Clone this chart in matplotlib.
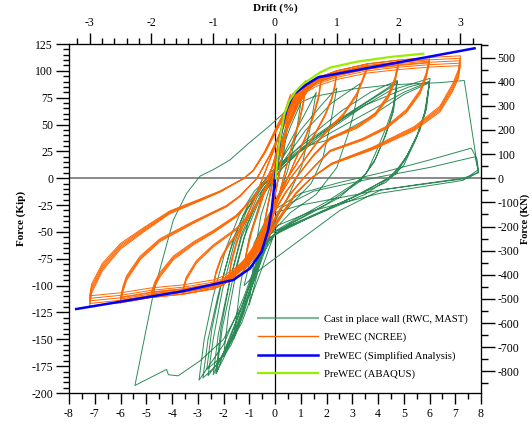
import numpy as np
import matplotlib.pyplot as plt
from matplotlib.ticker import MultipleLocator

plt.rcParams['font.family'] = ['Liberation Serif', 'DejaVu Serif']
plt.rcParams['axes.unicode_minus'] = False

KIP_TO_KN = 4.448
IN_PER_PCT = 2.4   # 1 % drift = 2.4 in

# ---- Cast in place wall (RWC, MAST): whole test record as (disp in, force kip)
cast_path = [
    (0, 0), (0.2, 30), (0.5, 55),
    (0.35, 25), (0.1, -5), (-0.2, -35), (-0.5, -70),
    (-0.35, -35), (-0.1, -5), (0.25, 25), (0.6, 48), (1.0, 70),
    (0.8, 38), (0.5, 8), (0.1, -20), (-0.4, -60), (-0.75, -95), (-1.0, -118),
    (-0.8, -72), (-0.55, -35), (-0.15, -5), (0.45, 28), (1.05, 55), (1.6, 80),
    (1.35, 45), (1.05, 12), (0.55, -15), (-0.1, -45), (-0.7, -85), (-1.2, -125), (-1.6, -150),
    (-1.35, -100), (-1.0, -55), (-0.55, -20), (0.1, 12), (1.0, 45), (1.8, 68), (2.4, 84),
    (2.15, 50), (1.85, 18), (1.4, -5), (0.6, -25), (-0.2, -48), (-0.8, -90), (-1.3, -130),
    (-1.7, -155), (-2.0, -166),
    (-1.8, -125), (-1.45, -80), (-1.05, -42), (-0.5, -12), (0.3, 15), (1.2, 45), (2.2, 70), (3.3, 88),
    (3.05, 60), (2.85, 42), (2.4, 10), (1.6, -15), (0.6, -32), (-0.3, -55), (-0.9, -100),
    (-1.5, -140), (-2.0, -168), (-2.3, -182),
    (-2.1, -140), (-1.75, -95), (-1.3, -52), (-0.7, -18), (0.2, 12), (1.4, 40), (2.6, 63),
    (3.7, 80), (4.75, 91),
    (4.6, 67), (4.33, 48), (3.95, 26), (3.56, 5), (2.5, -18), (1.2, -35), (0.0, -50),
    (-0.6, -90), (-1.3, -135), (-2.0, -165), (-2.65, -178),
    (-2.45, -140), (-2.05, -95), (-1.6, -55), (-1.0, -22), (-0.2, 5), (1.0, 30), (2.5, 55),
    (3.8, 75), (4.75, 90),
    (4.6, 62), (4.3, 40), (3.9, 18), (3.4, 0), (2.0, -22), (0.8, -38), (-0.4, -55),
    (-1.0, -100), (-1.75, -150), (-2.4, -183),
    (-2.2, -145), (-1.8, -100), (-1.3, -55), (-0.7, -22), (0.2, 8), (1.4, 35), (2.8, 58),
    (4.5, 82), (6.02, 93),
    (5.89, 66), (5.63, 45), (5.24, 26), (4.72, 4.5), (3.5, -15), (2.0, -30), (0.5, -45),
    (-0.45, -60), (-1.2, -110), (-2.0, -155), (-2.95, -188),
    (-2.75, -150), (-2.4, -110), (-1.9, -65), (-1.4, -35), (-0.8, -12), (0.2, 12), (1.5, 33),
    (2.14, 42), (3.95, 66), (5.0, 80), (6.0, 90),
    (5.85, 64), (5.55, 42), (5.15, 22), (4.6, 3), (3.2, -16), (1.6, -33), (0.2, -48),
    (-0.5, -65), (-1.2, -115), (-1.8, -150), (-2.27, -181.6),
    (-2.05, -140), (-1.65, -95), (-1.2, -55), (-0.6, -20), (0.3, 10), (1.2, 30), (2.14, 36),
    (3.69, 57), (5.0, 78), (6.0, 89),
    (5.8, 60), (5.45, 35), (5.0, 12), (4.3, -4), (2.8, -20), (1.2, -38), (-0.2, -55),
    (-0.8, -95), (-1.5, -140), (-2.1, -168), (-2.6, -184),
    (-2.4, -150), (-2.05, -105), (-1.6, -62), (-1.1, -30), (-0.4, -5), (0.6, 20), (1.8, 42),
    (3.2, 65), (4.72, 88),
    (4.55, 60), (4.25, 38), (3.85, 15), (3.3, -3), (2.0, -24), (0.6, -42), (-0.35, -58),
    (-1.0, -105), (-1.7, -150), (-2.3, -175), (-2.8, -186),
    (-2.6, -150), (-2.2, -108), (-1.75, -68), (-1.25, -35), (-0.6, -10), (0.4, 15), (1.8, 40),
    (3.5, 68), (5.2, 85), (6.0, 90),
    (5.85, 62), (5.5, 38), (5.0, 15), (4.4, 0), (3.0, -18), (1.5, -35), (0.0, -52),
    (-0.6, -75), (-1.3, -120), (-2.0, -150), (-2.91, -170), (-3.76, -184), (-4.14, -183),
    (-4.21, -178), (-5.44, -193),
    (-4.72, -107), (-3.95, -39), (-3.43, -14), (-2.91, 2), (-2.4, 8), (-1.75, 17), (-1.0, 33),
    (-0.2, 49), (0.58, 66), (1.5, 76), (3.0, 83), (4.5, 87), (6.4, 89), (7.35, 91),
    (7.9, 5),
    (7.3, 0), (5.5, -6), (4.1, -11), (2.52, -30), (1.0, -57), (-0.58, -85), (-1.2, -100),
    (-0.8, -60), (-0.2, -32), (1.0, -14), (2.5, -4), (4.08, 4.8), (6.0, 17), (7.62, 28),
    (7.84, 18), (7.9, 8),
    (7.3, -2), (4.08, -14), (1.5, -30), (0.0, -45), (-0.6, -70),
    (0.2, -28), (1.5, -12), (4.08, 1.4), (6.0, 10), (7.77, 20), (7.9, 6), (7.5, 0),
    (4.08, -11), (1.0, -25), (0.0, -32),
]

# ---- PreWEC (NCREE): envelope shared by the larger cycles
ncree_pos_env_x = [1.6, 2.4, 3.6, 4.8, 6.0, 7.2]
ncree_pos_env_f = [93, 100, 106.5, 110, 112.5, 114]
ncree_neg_env_x = [-2.0, -2.4, -3.6, -4.8, -6.0, -7.2]
ncree_neg_env_f = [-99, -103, -108, -111, -116, -119]

ncree_amp = [0.6, 1.2, 1.8, 2.4, 3.6, 4.8, 6.0, 7.2]
# reloading branch of each amplitude (negative peak -> up)
ncree_reload = [
    [(-0.6, -72), (-0.5, -55), (-0.35, -35), (-0.15, -10), (0.05, 20), (0.25, 48), (0.45, 68), (0.6, 78)],
    [(-1.2, -88), (-1.1, -70), (-0.9, -50), (-0.6, -28), (-0.3, -5), (0.0, 20), (0.3, 48), (0.6, 70),
     (0.9, 84), (1.2, 91)],
    [(-1.8, -97), (-1.7, -80), (-1.5, -62), (-1.2, -42), (-0.8, -20), (-0.4, 5), (0.0, 30), (0.4, 57),
     (0.8, 76), (1.2, 88), (1.8, 96)],
    [(-2.4, -103), (-2.3, -90), (-2.1, -76), (-1.8, -63), (-1.4, -50), (-1.0, -36), (-0.5, -15),
     (0.0, 10), (0.3, 35), (0.6, 58), (1.0, 77), (1.4, 89), (1.6, 93)],
    [(-3.6, -108), (-3.45, -95), (-3.05, -79), (-2.4, -64), (-1.5, -48), (-1.0, -35), (-0.5, -18),
     (-0.1, 0), (0.2, 22), (0.5, 48), (0.9, 70), (1.3, 85), (1.6, 93)],
    [(-4.8, -111), (-4.65, -100), (-4.47, -92), (-3.95, -76), (-3.17, -62), (-2.4, -51), (-1.5, -36),
     (-0.9, -20), (-0.3, 0), (0.1, 22), (0.5, 50), (0.9, 72), (1.3, 86), (1.6, 93)],
    [(-6.0, -116), (-5.9, -105), (-5.76, -95), (-5.24, -76), (-4.47, -59), (-3.17, -42),
     (-1.88, -26.5), (-1.36, -17), (-0.7, 0), (-0.2, 22), (0.3, 48), (0.7, 68), (1.1, 83), (1.6, 93)],
    [(-7.2, -119), (-7.12, -107), (-6.7, -86), (-6.0, -66), (-5.1, -50), (-4.08, -33), (-3.0, -22),
     (-2.14, -13), (-1.2, 0), (-0.84, 7.6), (-0.4, 25), (0.1, 50), (0.5, 68), (1.0, 84), (1.6, 93)],
]
# unloading branch of each amplitude (positive peak -> down)
ncree_unload = [
    [(0.6, 78), (0.52, 60), (0.4, 40), (0.25, 18), (0.05, -10), (-0.15, -35), (-0.35, -55), (-0.6, -72)],
    [(1.2, 91), (1.1, 72), (0.95, 55), (0.7, 35), (0.45, 12), (0.2, -12), (-0.1, -38), (-0.4, -60),
     (-0.8, -78), (-1.2, -88)],
    [(1.8, 96), (1.7, 78), (1.5, 60), (1.2, 40), (0.8, 18), (0.4, -5), (0.0, -28), (-0.4, -52),
     (-0.8, -72), (-1.2, -86), (-1.8, -97)],
    [(2.4, 100), (2.33, 88), (2.2, 75), (1.95, 60), (1.6, 44), (1.2, 28), (0.8, 12), (0.4, -3),
     (0.0, -22), (-0.4, -45), (-0.8, -65), (-1.2, -80), (-1.6, -91), (-2.0, -99)],
    [(3.6, 106.5), (3.43, 94.5), (3.17, 79), (2.65, 60), (2.14, 48), (1.6, 33), (1.1, 16), (0.6, 0),
     (0.1, -20), (-0.4, -45), (-0.9, -68), (-1.4, -85), (-2.0, -99)],
    [(4.8, 110), (4.66, 94), (4.4, 78), (3.9, 61), (3.2, 49), (2.14, 38), (1.5, 22), (0.9, 3),
     (0.4, -14), (-0.1, -35), (-0.6, -58), (-1.1, -77), (-1.5, -88), (-2.0, -99)],
    [(6.0, 112.5), (5.87, 98), (5.63, 82), (5.1, 64), (4.3, 48), (3.4, 37), (2.14, 26), (1.6, 13),
     (1.1, 0), (0.6, -15), (0.0, -38), (-0.5, -60), (-1.0, -77), (-1.5, -89), (-2.0, -99)],
    [(7.2, 114), (7.12, 101), (6.9, 88), (6.4, 67), (5.4, 48), (3.8, 29), (2.2, 14), (1.4, 0),
     (0.8, -15), (0.2, -38), (-0.4, -60), (-1.0, -78), (-1.5, -90), (-2.0, -99)],
]
# force ratio of the repeated cycles at each amplitude
ncree_repeat = [
    [1, 0.97, 0.94], [1, 0.97, 0.95], [1, 0.975, 0.955], [1, 0.985, 0.97],
    [1, 0.985, 0.97], [1, 0.985, 0.97, 0.955], [1, 0.985, 0.97, 0.955],
    [1, 0.98, 0.96, 0.94, 0.92],
]

# ---- PreWEC simplified analysis (backbone)
simp_x = [-7.72, -3.69, -1.62, -0.97, -0.52, -0.26, -0.13, 0, 0.08, 0.19, 0.32, 0.45, 0.58, 0.71,
          1.23, 1.68, 7.75]
simp_f = [-121.8, -105.7, -94.8, -84, -68.4, -48, -29.6, 0, 15, 35, 52, 64, 71, 78, 87.4, 94, 121]

# ---- PreWEC ABAQUS (monotonic)
abaq_x = [0.03, 0.08, 0.15, 0.25, 0.37, 0.55, 0.8, 1.1, 1.75, 2.14, 3.17, 4.5, 5.76]
abaq_f = [0, 15, 30, 45, 60, 72, 81, 88, 98.5, 103, 108.5, 113, 116]

fig = plt.figure(figsize=(5.32, 4.24), dpi=100)
ax = fig.add_axes([69 / 532, 31 / 424, 412 / 532, 349 / 424])

ax.axhline(0, color='#808080', lw=1.3, zorder=1)
ax.axvline(0, color='black', lw=0.9, zorder=1)

cp = np.array(cast_path)
ax.plot(cp[:, 0], cp[:, 1], color='#2e8b57', lw=0.7, label='Cast in place wall (RWC, MAST)')

first = True
for amp, rel, unl, reps in zip(ncree_amp, ncree_reload, ncree_unload, ncree_repeat):
    pos = [(x, f) for x, f in zip(ncree_pos_env_x, ncree_pos_env_f) if rel[-1][0] < x < unl[0][0]]
    neg = [(x, f) for x, f in zip(ncree_neg_env_x, ncree_neg_env_f) if rel[0][0] < x < unl[-1][0]]
    loop = np.array(rel + pos + unl + neg + [rel[0]])
    for r in reps:
        ax.plot(loop[:, 0], loop[:, 1] * r, color='#ff6600', lw=0.7,
                label='PreWEC (NCREE)' if first else None)
        first = False

ax.plot(simp_x, simp_f, color='#0000ff', lw=1.8, label='PreWEC (Simplified Analysis)')
ax.plot(abaq_x, abaq_f, color='#99ee00', lw=1.6, label='PreWEC (ABAQUS)')

ax.set_xlim(-8, 8)
ax.set_ylim(-200, 125)
ax.xaxis.set_major_locator(MultipleLocator(1))
ax.xaxis.set_minor_locator(MultipleLocator(0.5))
ax.yaxis.set_major_locator(MultipleLocator(25))
ax.yaxis.set_minor_locator(MultipleLocator(5))
ax.tick_params(axis='x', which='major', direction='out', length=8, width=1, labelsize=8.5, pad=3)
ax.tick_params(axis='x', which='minor', direction='out', length=4, width=1)
ax.tick_params(axis='y', which='major', direction='out', length=9.5, width=1, labelsize=8.5, pad=2)
ax.tick_params(axis='y', which='minor', direction='out', length=4.5, width=1)
ax.set_ylabel('Force (Kip)', fontweight='bold', fontsize=8, labelpad=4)

axt = ax.twiny()
axt.set_xlim(-8 / IN_PER_PCT, 8 / IN_PER_PCT)
axt.xaxis.set_major_locator(MultipleLocator(1))
axt.xaxis.set_minor_locator(MultipleLocator(0.2))
axt.tick_params(which='major', direction='out', length=8, width=1, labelsize=8.5, pad=3)
axt.tick_params(which='minor', direction='out', length=4, width=1)
axt.set_xlabel('Drift (%)', fontweight='bold', fontsize=8, labelpad=4)

axr = ax.twinx()
axr.set_ylim(-200 * KIP_TO_KN, 125 * KIP_TO_KN)
axr.yaxis.set_major_locator(MultipleLocator(100))
axr.yaxis.set_minor_locator(MultipleLocator(50))
axr.tick_params(which='major', direction='out', length=10, width=1, labelsize=8.5, pad=2)
axr.tick_params(which='minor', direction='out', length=5, width=1)
axr.set_ylabel('Force (KN)', fontweight='bold', fontsize=7.5, labelpad=0.5)

leg = ax.legend(loc='upper left', bbox_to_anchor=(258 / 532, 1 - 314 / 424),
                bbox_transform=fig.transFigure, frameon=False, fontsize=7.7,
                handlelength=5.6, handletextpad=0.6, labelspacing=0.8,
                borderpad=0, borderaxespad=0)
lines = leg.get_lines()
lines[0].set_alpha(0.6)
lines[0].set_linewidth(1.5)
lines[1].set_linewidth(1.0)

fig.savefig('out.png', dpi=100)
